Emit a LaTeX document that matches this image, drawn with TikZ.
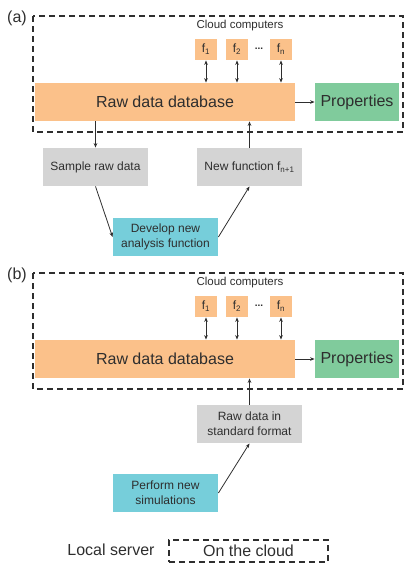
\documentclass[tikz,border=0pt]{standalone}
\usepackage{fontspec}
\setmainfont{Liberation Sans}
\usetikzlibrary{positioning,arrows.meta}
\definecolor{dataorange}{HTML}{FBC18A}
\definecolor{propgreen}{HTML}{80CB9C}
\definecolor{stepgray}{HTML}{D4D4D4}
\definecolor{devcyan}{HTML}{76CEDA}
\definecolor{inkgray}{HTML}{2E2E2E}
\begin{document}
\begin{tikzpicture}[x=1pt,y=-1pt,>={Stealth[length=4.5pt,width=3.6pt]},
            line width=0.8pt,draw=inkgray,text=inkgray,
            big node/.style={fill=dataorange,minimum height=38pt,inner sep=0pt,
                font=\fontsize{16}{19}\selectfont},
            step node/.style={fill=stepgray,minimum width=105pt,minimum height=38pt,
                inner sep=0pt,align=center,font=\fontsize{12}{15}\selectfont},
            f node/.style={fill=dataorange,minimum width=22pt,minimum height=21pt,
                inner sep=0pt,font=\fontsize{12}{14}\selectfont},
            cloud line/.style={dash pattern=on 6pt off 4pt,line width=1.2pt}]

        \useasboundingbox (0,0) rectangle (415,574);

        % Panel (a)
        \node[font=\fontsize{16}{19}\selectfont] (labA) at (17,18) {(a)};
        \draw[cloud line] (33,16) rectangle (403,132);
        \node[font=\fontsize{11.5}{14}\selectfont] (cloudA) at (240,26) {Cloud computers};
        \node[f node] (f1A) at (206,49.5) {f\textsubscript{1}};
        \node[f node] (f2A) at (237,49.5) {f\textsubscript{2}};
        \node[f node] (fnA) at (281,49.5) {f\textsubscript{n}};
        \node[font=\bfseries] (dotsA) at (259,49) {...};
        \node[big node,minimum width=260pt] (rawA) at (165,102) {Raw data database};
        \node[big node,fill=propgreen,minimum width=84pt] (propA) at (357,102) {Properties};
        \node[step node] (sampleA) at (95.5,167) {Sample raw data};
        \node[step node] (newA) at (249.5,167) {New function f\textsubscript{n+1}};
        \node[step node,fill=devcyan] (devA) at (165.5,237) {Develop new\\analysis function};

        \draw[<->] (f1A.south) -- (f1A.south |- rawA.north);
        \draw[<->] (f2A.south) -- (f2A.south |- rawA.north);
        \draw[<->] (fnA.south) -- (fnA.south |- rawA.north);
        \draw[->] (rawA.east) -- (propA.west);
        \draw[->] (sampleA.north |- rawA.south) -- (sampleA.north);
        \draw[->] (sampleA.south) -- (devA.west);
        \draw[->] (devA.east) -- (newA.south);
        \draw[->] (newA.north) -- (newA.north |- rawA.south);

        % Panel (b)
        \node[font=\fontsize{16}{19}\selectfont] (labB) at (17,275) {(b)};
        \draw[cloud line] (33,273) rectangle (403,389);
        \node[font=\fontsize{11.5}{14}\selectfont] (cloudB) at (240,283) {Cloud computers};
        \node[f node] (f1B) at (206,306.5) {f\textsubscript{1}};
        \node[f node] (f2B) at (237,306.5) {f\textsubscript{2}};
        \node[f node] (fnB) at (281,306.5) {f\textsubscript{n}};
        \node[font=\bfseries] (dotsB) at (259,306) {...};
        \node[big node,minimum width=260pt] (rawB) at (165,359) {Raw data database};
        \node[big node,fill=propgreen,minimum width=84pt] (propB) at (357,359) {Properties};
        \node[step node] (stdB) at (249.5,424) {Raw data in\\standard format};
        \node[step node,fill=devcyan] (simB) at (165.5,493) {Perform new\\simulations};

        \draw[<->] (f1B.south) -- (f1B.south |- rawB.north);
        \draw[<->] (f2B.south) -- (f2B.south |- rawB.north);
        \draw[<->] (fnB.south) -- (fnB.south |- rawB.north);
        \draw[->] (rawB.east) -- (propB.west);
        \draw[->] (simB.east) -- (stdB.south);
        \draw[->] (stdB.north) -- (stdB.north |- rawB.south);

        % Legend
        \node[font=\fontsize{16}{19}\selectfont] (local) at (111,550) {Local server};
        \node[draw,cloud line,minimum width=159pt,minimum height=22pt,inner sep=0pt,
            font=\fontsize{16}{19}\selectfont] (cloud) at (248.5,551) {On the cloud};

\end{tikzpicture}
\end{document}
